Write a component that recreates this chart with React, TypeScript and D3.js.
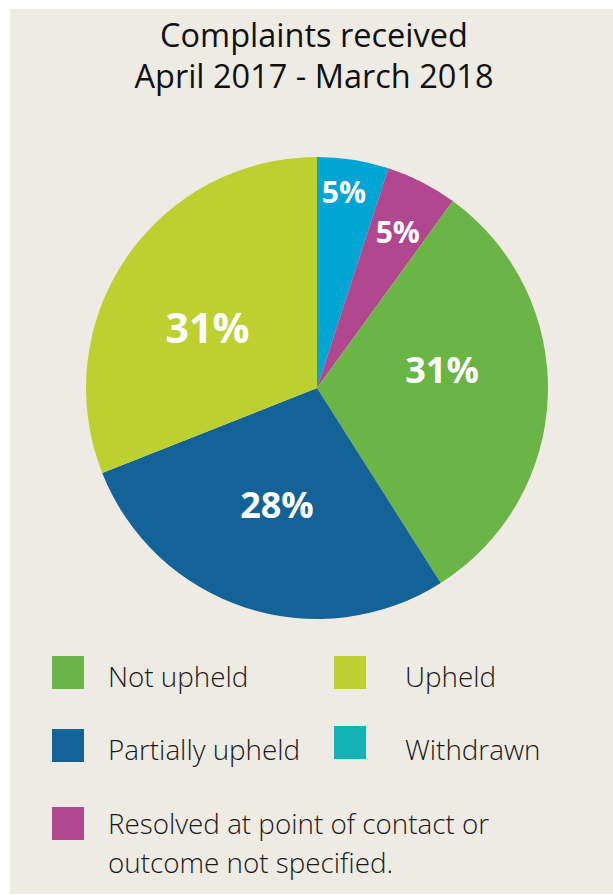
import React from "react";
import * as d3 from "d3";

const categories = ["Withdrawn", "Resolved at point of contact or outcome not specified.", "Not upheld", "Partially upheld", "Upheld"];
const values = [5, 5, 31, 28, 31];
const labels = ["5%", "5%", "31%", "28%", "31%"];
const pieColors = ["#00a5d3", "#b0478f", "#6ab545", "#136298", "#bcd030"];
const legendItems = ["Not upheld", "Upheld", "Partially upheld", "Withdrawn", "Resolved at point of contact or"];
const legendColors = ["#6ab545", "#bcd030", "#136298", "#12b3b5", "#b0478f"];
const titleLines = ["Complaints received", "April 2017 - March 2018"];

const W = 613, H = 895;
const cx = 317, cy = 388, R = 231;
const labelSizes = [30, 30, 36, 36, 41];
const labelRadius = [0.857, 0.76, 0.547, 0.535, 0.54];
const labelAngleShift = [-1.2, 0.4, -10, 0.9, -5.6];

export default function App() {
  const pie = d3.pie<number>().sort(null).value((d) => d)(values);
  const arc = d3.arc<d3.PieArcDatum<number>>().innerRadius(0).outerRadius(R);
  const font = "'Open Sans', 'Noto Sans', sans-serif";
  const legendPos = [
    [52, 656, 108, 687],
    [334, 656, 405, 687],
    [52, 729, 108, 760],
    [334, 726, 405, 760],
    [52, 807, 108, 834],
  ];
  return (
    <svg width={W} height={H} style={{ position: "absolute", left: 0, top: 0 }}>
      <rect x={10} y={9} width={W - 10} height={885} fill="#eeebe4" />
      {titleLines.map((t, i) => (
        <text key={i} x={314} y={47 + i * 41} textAnchor="middle" fontFamily={font} fontSize={32.5} fill="#111">
          {t}
        </text>
      ))}
      <g transform={`translate(${cx},${cy})`}>
        {pie.map((p, i) => (
          <path key={i} d={arc(p) || ""} fill={pieColors[i]} />
        ))}
        {pie.map((p, i) => {
          const a = (p.startAngle + p.endAngle) / 2 + (labelAngleShift[i] * Math.PI) / 180;
          const r = R * labelRadius[i];
          return (
            <text key={"l" + i} x={Math.sin(a) * r} y={-Math.cos(a) * r} dy="0.36em" textAnchor="middle"
              fontFamily={font} fontWeight={700} fontSize={labelSizes[i]} fill="#fff">
              {labels[i]}
            </text>
          );
        })}
      </g>
      {legendItems.map((t, i) => {
        const [sx, sy, tx, ty] = legendPos[i];
        return (
          <g key={"g" + i}>
            <rect x={sx} y={sy} width={32} height={33} fill={legendColors[i]} />
            <text x={tx} y={ty} fontFamily={font} fontWeight={300} fontSize={27.8} fill="#1a1a1a">{t}</text>
          </g>
        );
      })}
      <text x={108} y={873} fontFamily={font} fontWeight={300} fontSize={27.8} fill="#1a1a1a">outcome not specified.</text>
    </svg>
  );
}
